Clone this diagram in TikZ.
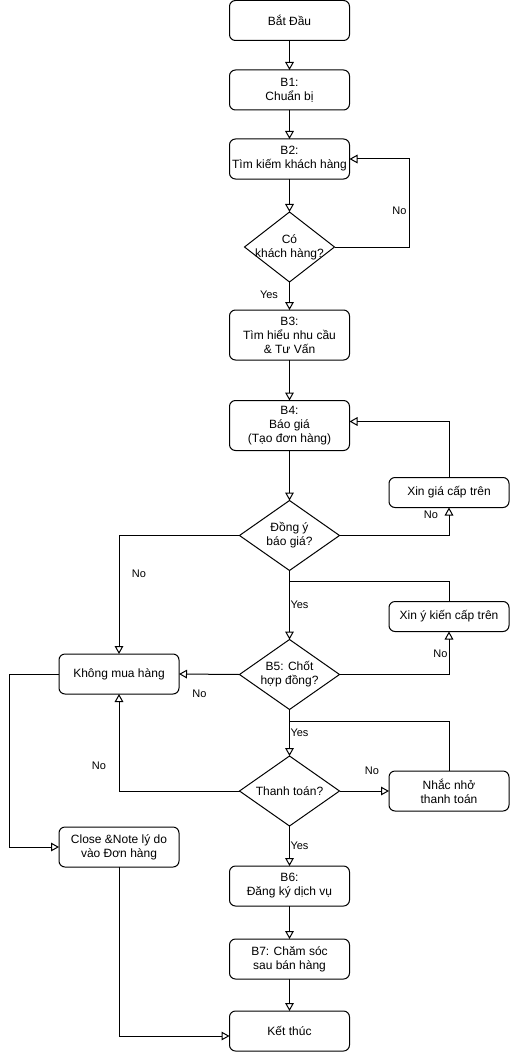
\documentclass[tikz,border=0pt]{standalone}
\usepackage{fontspec}
\setmainfont{Liberation Sans}
\usetikzlibrary{shapes.geometric,arrows.meta}
\begin{document}
\begin{tikzpicture}[x=0.75pt,y=-0.75pt]
      \tikzset{
        stepbox/.style={rectangle,rounded corners=4.5pt,draw,line width=0.75pt,minimum width=90pt,minimum height=30pt,inner sep=0pt,outer sep=0pt,align=center,font=\fontsize{9}{10.5}\selectfont},
        decision/.style={diamond,draw,line width=0.75pt,minimum width=75pt,minimum height=52.5pt,inner sep=-6pt,outer sep=0pt,align=center,font=\fontsize{9}{10.5}\selectfont},
        flow/.style={line width=0.75pt,-{Triangle[open,length=6pt,width=6.5pt]}},
        link/.style={line width=0.75pt},
        lbl/.style={inner sep=0pt,font=\fontsize{8.25}{10}\selectfont}
      }
      \useasboundingbox (0,0) rectangle (510,1052);

      % main column
      \node[stepbox] (start) at (289.5,20.5) {Bắt Đầu};
      \node[stepbox] (b1) at (289.5,90) {B1:\\Chuẩn bị};
      \node[stepbox] (b2) at (289.5,159) {B2:\\Tìm kiếm khách hàng};
      \node[decision,minimum width=67.5pt] (d1) at (289.5,247) {Có\\khách hàng?};
      \node[stepbox,minimum height=37.5pt] (b3) at (289.5,335) {B3:\\Tìm hiểu nhu cầu\\\& Tư Vấn};
      \node[stepbox,minimum height=37.5pt] (b4) at (289.5,425.5) {B4:\\Báo giá\\(Tạo đơn hàng)};
      \node[decision] (d2) at (289.5,535.5) {Đồng ý\\báo giá?};
      \node[decision] (d3) at (289.5,674.5) {B5: Chốt\\hợp đồng?};
      \node[decision] (d4) at (289.5,791) {Thanh toán?};
      \node[stepbox] (b6) at (289.5,886) {B6:\\Đăng ký dịch vụ};
      \node[stepbox] (b7) at (289.5,959) {B7: Chăm sóc\\sau bán hàng};
      \node[stepbox] (end) at (289.5,1031) {Kết thúc};

      % side boxes
      \node[stepbox,minimum height=22.5pt] (ask1) at (449,492.5) {Xin giá cấp trên};
      \node[stepbox,minimum height=22.5pt] (ask2) at (449,616.5) {Xin ý kiến cấp trên};
      \node[stepbox] (remind) at (449,791) {Nhắc nhở\\thanh toán};
      \node[stepbox] (nobuy) at (119,674) {Không mua hàng};
      \node[stepbox] (close) at (119,847) {Close \&Note lý do\\vào Đơn hàng};

      \coordinate (j1) at (289.5,581);
      \coordinate (j2) at (289.5,721);

      \draw[link] (start) edge[flow] (b1)
            (b1) edge[flow] (b2)
            (b2) edge[flow] (d1)
            (d1) edge[flow] (b3)
            (b3) edge[flow] (b4)
            (b4) edge[flow] (d2)
            (d2) edge[flow] (d3)
            (d3) edge[flow] (d4)
            (d4) edge[flow] (b6)
            (b6) edge[flow] (b7)
            (b7) edge[flow] (end)
            (d3.west) edge[flow] (nobuy.east)
            (d4.east) edge[flow] (remind.west);

      \draw[flow] (d1.east) -- ++(74.5,0) |- (b2.east);
      \draw[flow] (d2.east) -| (ask1.south);
      \draw[flow] (ask1.north) |- ([yshift=3pt]b4.east);
      \draw[flow] (d2.west) -| (nobuy.north);
      \draw[link] (ask2.north) |- (j1);
      \draw[flow] (d3.east) -| (ask2.south);
      \draw[link] (remind.north) |- (j2);
      \draw[flow] (d4.west) -| (nobuy.south);
      \draw[flow] (nobuy.west) -- ++(-50,0) |- (close.west);
      \draw[flow] (close.south) |- ([yshift=-3.75pt]end.west);

      % labels
      \node[lbl] (no1) at (399.5,211) {No};
      \node[lbl] (yes1) at (269,295) {Yes};
      \node[lbl] (no2) at (431,515) {No};
      \node[lbl] (no3) at (139,574) {No};
      \node[lbl] (yes2) at (299.5,605) {Yes};
      \node[lbl] (no4) at (440.5,654) {No};
      \node[lbl] (no5) at (199.5,694) {No};
      \node[lbl] (yes3) at (299.5,733) {Yes};
      \node[lbl] (no6) at (372,771) {No};
      \node[lbl] (no7) at (99,766) {No};
      \node[lbl] (yes4) at (299.5,846) {Yes};
    \end{tikzpicture}
\end{document}
